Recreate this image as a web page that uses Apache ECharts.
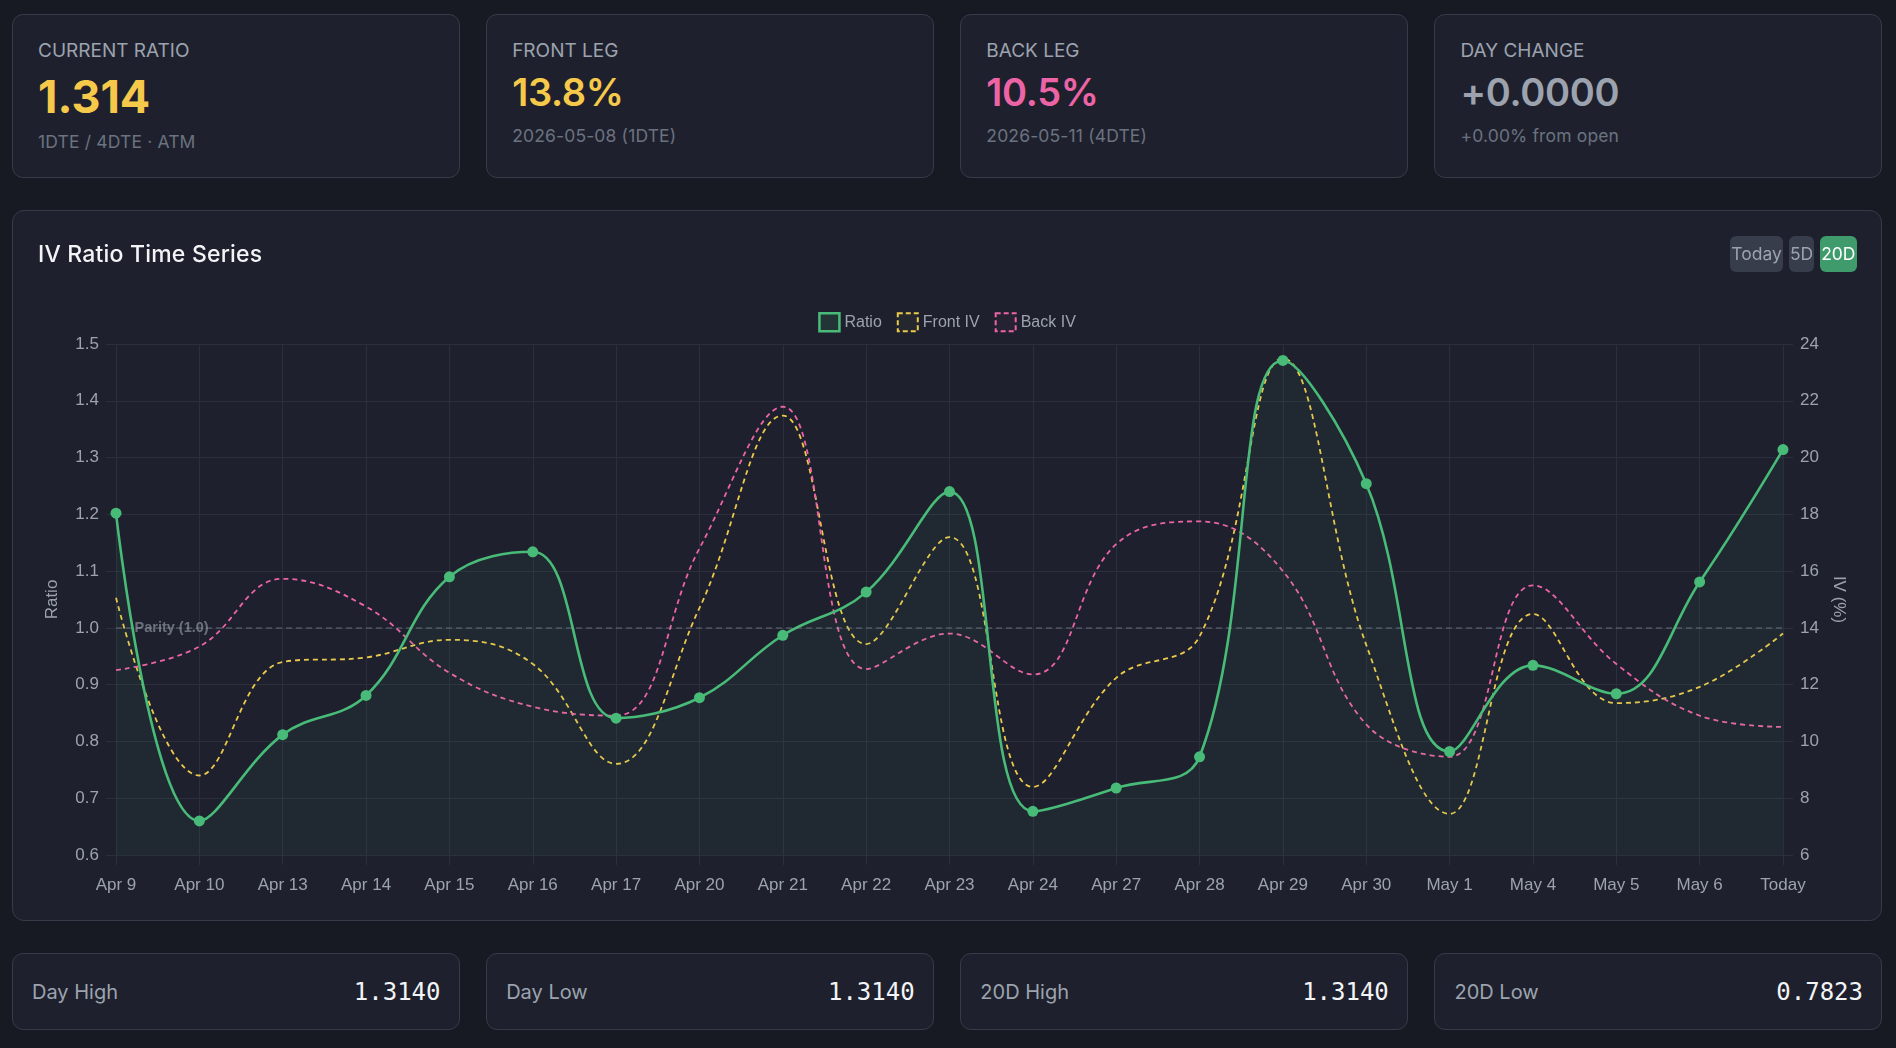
<!DOCTYPE html>
<html>
<head>
<meta charset="utf-8">
<script src="https://cdn.jsdelivr.net/npm/echarts@6/dist/echarts.min.js"></script>
<style>
  * { box-sizing: border-box; margin: 0; padding: 0; }
  html, body { width: 1896px; height: 1048px; overflow: hidden; }
  body { background: #171a23; font-family: Inter, "Noto Sans", sans-serif; color: #e5e7eb; position: relative; }
  .row { position: absolute; left: 12px; width: 1870px; display: grid; grid-template-columns: repeat(4, 1fr); column-gap: 26.67px; }
  .top { top: 14px; height: 164px; }
  .bottom { top: 953px; height: 77px; }
  .card { position: relative; background: #1e212d; border: 1px solid #363b49; border-radius: 11px; height: 100%; }
  .lbl { position: absolute; left: 25px; top: 26px; font-size: 19px; line-height: 1; color: #9ca3af; white-space: nowrap; }
  .val { position: absolute; left: 25px; font-weight: 700; line-height: 1; white-space: nowrap; }
  .val.big { top: 58.8px; font-size: 45px; }
  .val.mid { top: 57.8px; font-size: 38px; font-weight: 600; letter-spacing: -0.3px; }
  .sub { position: absolute; left: 25px; font-size: 17.5px; letter-spacing: 0.15px; line-height: 1; color: #6b7280; white-space: nowrap; }
  .sub.a { top: 117.5px; }
  .sub.b { top: 111.5px; }
  .yel { color: #f6c94b; }
  .pink { color: #ed64a6; }
  .gray { color: #9ca3af; }
  .chartcard { position: absolute; left: 12px; top: 210px; width: 1870px; height: 711px; background: #1e212d; border: 1px solid #363b49; border-radius: 12px; }
  #chart { position: absolute; left: 0; top: 0; width: 1868px; height: 709px; }
  .title { position: absolute; left: 25px; top: 32px; font-size: 23px; letter-spacing: 0.2px; line-height: 1; font-weight: 500; color: #f3f4f6; z-index: 2; white-space: nowrap; }
  .btns { position: absolute; right: 24.5px; top: 25px; display: flex; gap: 6px; z-index: 2; }
  .btn { height: 36px; line-height: 36px; font-size: 17.5px; padding: 0 1px; border-radius: 6px; background: #373d4b; color: #9ca3af; }
  .btn.on { background: #3f9a6c; color: #ffffff; }
  .bcard { display: flex; align-items: center; justify-content: space-between; padding: 0 18px 0 19px; }
  .blbl { font-size: 20px; line-height: 1; color: #9ca3af; }
  .bval { font-family: "DejaVu Sans Mono", monospace; font-size: 24px; line-height: 1; color: #f3f4f6; }
</style>
</head>
<body>
<div class="row top">
  <div class="card">
    <div class="lbl">CURRENT RATIO</div>
    <div class="val big yel">1.314</div>
    <div class="sub a">1DTE / 4DTE · ATM</div>
  </div>
  <div class="card">
    <div class="lbl">FRONT LEG</div>
    <div class="val mid yel">13.8%</div>
    <div class="sub b">2026-05-08 (1DTE)</div>
  </div>
  <div class="card">
    <div class="lbl">BACK LEG</div>
    <div class="val mid pink">10.5%</div>
    <div class="sub b">2026-05-11 (4DTE)</div>
  </div>
  <div class="card">
    <div class="lbl">DAY CHANGE</div>
    <div class="val mid gray">+0.0000</div>
    <div class="sub b">+0.00% from open</div>
  </div>
</div>

<div class="chartcard">
  <div class="title">IV Ratio Time Series</div>
  <div class="btns"><div class="btn">Today</div><div class="btn">5D</div><div class="btn on">20D</div></div>
  <div id="chart"></div>
</div>

<div class="row bottom">
  <div class="card bcard"><span class="blbl">Day High</span><span class="bval">1.3140</span></div>
  <div class="card bcard"><span class="blbl">Day Low</span><span class="bval">1.3140</span></div>
  <div class="card bcard"><span class="blbl">20D High</span><span class="bval">1.3140</span></div>
  <div class="card bcard"><span class="blbl">20D Low</span><span class="bval">0.7823</span></div>
</div>

<script>
const categories = ['Apr 9','Apr 10','Apr 13','Apr 14','Apr 15','Apr 16','Apr 17','Apr 20','Apr 21','Apr 22','Apr 23','Apr 24','Apr 27','Apr 28','Apr 29','Apr 30','May 1','May 4','May 5','May 6','Today'];
const ratio   = [1.202,0.660,0.812,0.881,1.090,1.134,0.841,0.877,0.987,1.063,1.240,0.677,0.718,0.773,1.471,1.254,0.7823,0.934,0.884,1.081,1.314];
const frontIV = [15.06,8.80,12.80,12.96,13.58,12.73,9.21,14.70,21.48,13.43,17.20,8.40,12.24,13.70,23.49,13.40,7.45,14.49,11.35,11.92,13.80];
const backIV  = [12.51,13.34,15.73,14.75,12.42,11.22,10.91,16.80,21.79,12.55,13.80,12.36,16.95,17.75,16.00,10.60,9.46,15.50,12.73,10.91,10.51];
const parity = 1.0;
const ratioTicks = { min: 0.6, max: 1.5, step: 0.1 };
const ivTicks = { min: 6, max: 24, step: 2 };

const GREEN = '#48bb78', YELLOW = '#ecc94b', PINK = '#ed64a6';
const GRID = '#2a2f3b', TXT = '#9ca3af';
const FONT = 'Liberation Sans';

const chart = echarts.init(document.getElementById('chart'), null, { renderer: 'canvas' });
chart.setOption({
  animation: false,
  backgroundColor: 'transparent',
  textStyle: { fontFamily: FONT },
  grid: { left: 103, right: 98, top: 133, bottom: 65, containLabel: false, outerBoundsMode: 'none' },
  legend: {
    top: 96, left: 'center', icon: 'rect', itemWidth: 20, itemHeight: 18, itemGap: 15,
    textStyle: { color: TXT, fontSize: 16, fontFamily: FONT },
    data: [
      { name: 'Ratio', itemStyle: { color: 'rgba(72,187,120,0.12)', borderColor: GREEN, borderWidth: 2.5 } },
      { name: 'Front IV', itemStyle: { color: 'rgba(236,201,75,0.04)', borderColor: YELLOW, borderWidth: 2, borderType: [5, 3] } },
      { name: 'Back IV', itemStyle: { color: 'rgba(237,100,166,0.04)', borderColor: PINK, borderWidth: 2, borderType: [5, 3] } }
    ]
  },
  xAxis: {
    type: 'category', boundaryGap: false, data: categories,
    axisLine: { show: true, lineStyle: { color: GRID } },
    axisTick: { show: true, length: 10, interval: 0, lineStyle: { color: GRID } },
    axisLabel: { color: TXT, fontSize: 17, margin: 22, interval: 0, fontFamily: FONT },
    splitLine: { show: true, interval: 0, lineStyle: { color: GRID, width: 1 } }
  },
  yAxis: [
    {
      type: 'value', position: 'left', min: ratioTicks.min, max: ratioTicks.max, interval: ratioTicks.step,
      name: 'Ratio', nameLocation: 'middle', nameGap: 55, nameRotate: 90,
      nameTextStyle: { color: TXT, fontSize: 17, fontFamily: FONT },
      axisLine: { show: false },
      axisTick: { show: true, length: 10, lineStyle: { color: GRID } },
      axisLabel: { color: TXT, fontSize: 17, margin: 17, fontFamily: FONT, formatter: v => v.toFixed(1) },
      splitLine: { show: true, lineStyle: { color: GRID, width: 1 } }
    },
    {
      type: 'value', position: 'right', min: ivTicks.min, max: ivTicks.max, interval: ivTicks.step,
      name: 'IV (%)', nameLocation: 'middle', nameGap: 47, nameRotate: -90,
      nameTextStyle: { color: TXT, fontSize: 17, fontFamily: FONT },
      axisLine: { show: false },
      axisTick: { show: true, length: 10, lineStyle: { color: GRID } },
      axisLabel: { color: TXT, fontSize: 17, margin: 17, fontFamily: FONT },
      splitLine: { show: false }
    }
  ],
  series: [
    {
      name: 'Ratio', type: 'line', yAxisIndex: 0, data: ratio, smooth: 0.4,
      symbol: 'circle', symbolSize: 11, showSymbol: true,
      lineStyle: { color: GREEN, width: 2.6 },
      itemStyle: { color: GREEN },
      areaStyle: { color: 'rgba(72,187,120,0.08)', origin: 'start' },
      z: 3,
      markLine: {
        silent: true, symbol: 'none', animation: false,
        lineStyle: { color: 'rgba(156,163,175,0.38)', type: [6, 4], width: 1.5 },
        label: { show: false },
        data: [{ yAxis: parity }]
      },
      markPoint: {
        silent: true, symbol: 'circle', symbolSize: 1, itemStyle: { color: 'rgba(0,0,0,0)' },
        label: { show: true, position: 'right', distance: 18, formatter: 'Parity (1.0)', color: 'rgba(156,163,175,0.6)', fontSize: 14.5, fontWeight: 'bold', fontFamily: FONT },
        data: [{ coord: [categories[0], parity] }]
      }
    },
    {
      name: 'Front IV', type: 'line', yAxisIndex: 1, data: frontIV, smooth: 0.4,
      symbol: 'none', showSymbol: false,
      lineStyle: { color: YELLOW, width: 1.8, type: [5, 4] },
      itemStyle: { color: YELLOW }, z: 2
    },
    {
      name: 'Back IV', type: 'line', yAxisIndex: 1, data: backIV, smooth: 0.4,
      symbol: 'none', showSymbol: false,
      lineStyle: { color: PINK, width: 1.8, type: [5, 4] },
      itemStyle: { color: PINK }, z: 2
    }
  ]
});
</script>
</body>
</html>
